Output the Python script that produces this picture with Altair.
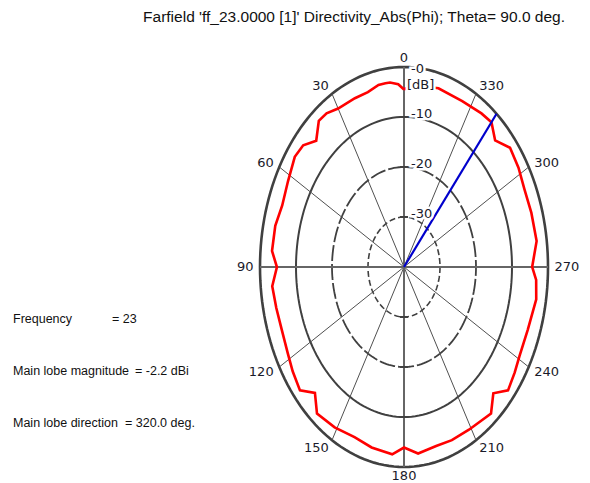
import altair as alt
import pandas as pd
import numpy as np

# ---------------- data ----------------
title_text = "Farfield 'ff_23.0000 [1]' Directivity_Abs(Phi); Theta=  90.0 deg."
info_labels = ["Frequency", "Main lobe magnitude", "Main lobe direction"]
info_values = ["= 23", "= -2.2 dBi", "= 320.0 deg."]

phi_deg = [0, 2.5, 6, 8, 11, 16, 22, 30, 35, 39, 44, 49, 54, 62, 70, 77, 85, 90,
           96, 103, 110, 118, 124, 130.5, 135.5, 140.5, 149, 158, 166, 175, 180,
           186, 194, 201, 209, 219.5, 224.5, 229.5, 235.5, 241, 250, 260, 266, 270,
           278, 287, 295, 302, 309, 315, 320, 325, 334, 345, 352, 357, 360]
dir_db = [-4.5, -3.4, -2.9, -2.9, -2.9, -3.6, -3.6, -3.4, -2.5, -2.4, -4.9, -2.9, -2.5, -3.5, -4.0, -3.3, -3.2, -4.7,
          -3.2, -3.6, -3.8, -3.4, -2.7, -2.0, -4.7, -2.0, -2.6, -3.3, -2.8, -2.4, -3.9,
          -2.5, -3.1, -2.9, -2.8, -2.0, -4.6, -2.0, -2.7, -3.3, -3.4, -2.7, -3.2, -4.4,
          -2.8, -3.0, -3.1, -2.5, -2.1, -4.2, -2.2, -2.5, -3.1, -3.0, -3.5, -3.7, -4.5]

ring_db = [0, -10, -20, -30]
ring_labels = ["-0", "-10", "-20", "-30"]
db_min = -40
angle_ticks = [0, 30, 60, 90, 120, 150, 180, 210, 240, 270, 300, 330]
main_lobe_dir = 320

# ---------------- geometry ----------------
W, H = 574, 475
CX, CY = 396, 259
RX, RY = 144, 200
xs = alt.Scale(domain=[-CX / RX, (W - CX) / RX], nice=False, zero=False)
ys = alt.Scale(domain=[-(H - CY) / RY, CY / RY], nice=False, zero=False)

GRID = "#404040"
FONT_TXT = "Liberation Sans"
FONT_LAB = "DejaVu Sans"

def X(f="x"):
    return alt.X(f"{f}:Q", scale=xs, axis=None)

def Y(f="y"):
    return alt.Y(f"{f}:Q", scale=ys, axis=None)

def polar(ch, rexpr, aexpr):
    return ch.transform_calculate(
        x=f"-({rexpr})*sin(({aexpr})*PI/180)",
        y=f"({rexpr})*cos(({aexpr})*PI/180)",
    )

# rings
ring_rows = []
for lv in ring_db:
    for a in range(0, 362, 2):
        ring_rows.append({"lv": lv, "a": a})
ring_df = pd.DataFrame(ring_rows)
ring_styles = {0: (2.6, []), -10: (2.0, []), -20: (1.8, [16, 3]), -30: (1.6, [6, 3])}
layers = []
for lv in ring_db:
    sw, dash = ring_styles[lv]
    props = dict(color=GRID, strokeWidth=sw)
    if dash:
        props["strokeDash"] = dash
    c = polar(alt.Chart(ring_df), f"(datum.lv-({db_min}))/(-({db_min}))", "datum.a") \
        .transform_filter(f"datum.lv == {lv}") \
        .mark_line(**props).encode(x=X(), y=Y(), order="a:Q")
    layers.append(c)

# spokes
sp_rows = []
for a in angle_ticks:
    if a % 90 != 0:
        sp_rows.append({"a": a, "rr": 0})
        sp_rows.append({"a": a, "rr": 1})
sp_df = pd.DataFrame(sp_rows)
spokes = polar(alt.Chart(sp_df), "datum.rr", "datum.a").mark_line(
    color="#505050", strokeWidth=1).encode(x=X(), y=Y(), detail="a:N", order="rr:Q")
layers.append(spokes)

ax_rows = []
for a in [0, 90]:
    ax_rows += [{"a": a, "rr": -1}, {"a": a, "rr": 1}]
ax_df = pd.DataFrame(ax_rows)
axes_main = polar(alt.Chart(ax_df), "datum.rr", "datum.a").mark_line(
    color="#666666", strokeWidth=2).encode(x=X(), y=Y(), detail="a:N", order="rr:Q")
layers.append(axes_main)

# ticks on vertical axis at ring crossings
tk_rows = []
for lv in ring_db[1:]:
    r = (lv - db_min) / (-db_min)
    tk_rows += [{"lv": lv, "yy": r}, {"lv": lv, "yy": -r}]
tk_df = pd.DataFrame(tk_rows)
ticks = alt.Chart(tk_df).transform_calculate(x1=f"-4/{RX}", x2=f"4/{RX}").mark_rule(
    color=GRID, strokeWidth=2).encode(x=X("x1"), x2="x2:Q", y=Y("yy"))
layers.append(ticks)

# red directivity curve
cur_df = pd.DataFrame({"phi": phi_deg, "db": dir_db, "i": list(range(len(phi_deg)))})
curve = polar(alt.Chart(cur_df), f"(datum.db-({db_min}))/(-({db_min}))", "datum.phi").mark_line(
    color="#ff0000", strokeWidth=2.6, strokeJoin="miter").encode(x=X(), y=Y(), order="i:Q")
layers.append(curve)

# blue main lobe line
ml_df = pd.DataFrame({"a": [main_lobe_dir, main_lobe_dir], "rr": [0, 1]})
lobe = polar(alt.Chart(ml_df), "datum.rr", "datum.a").mark_line(
    color="#0000cc", strokeWidth=2.2).encode(x=X(), y=Y(), order="rr:Q")
layers.append(lobe)

# range labels with white halo
rl_df = pd.DataFrame({"lv": ring_db, "t": ring_labels})
for halo in (True, False):
    base = dict(align="left", baseline="middle", font=FONT_LAB, fontSize=13, color="#1a1a2a")
    if halo:
        base.update(stroke="white", strokeWidth=5, color="white")
    for cond, dy in [("datum.lv == 0", 2), ("datum.lv != 0", -3)]:
        t = alt.Chart(rl_df).transform_filter(cond).transform_calculate(
            x=f"7/{RX}", y=f"(datum.lv-({db_min}))/(-({db_min}))").mark_text(dy=dy, **base).encode(
            x=X(), y=Y(), text="t:N")
        layers.append(t)
    db_t = alt.Chart(pd.DataFrame({"t": ["[dB]"], "v": [0.91]})).transform_calculate(
        x=f"3/{RX}").mark_text(**base).encode(x=X(), y=Y("v"), text="t:N")
    layers.append(db_t)

# angle labels
al_df = pd.DataFrame({"a": angle_ticks, "t": [str(a) for a in angle_ticks]})
for cond, align in [("datum.a > 0 && datum.a < 180", "right"),
                    ("datum.a > 180", "left"),
                    ("datum.a == 0 || datum.a == 180", "center")]:
    t = polar(alt.Chart(al_df).transform_filter(cond), "1.045", "datum.a").mark_text(
        align=align, baseline="middle", font=FONT_LAB, fontSize=13, color="#1a1a2a").encode(
        x=X(), y=Y(), text="t:N")
    layers.append(t)

# title and info text
dummy = pd.DataFrame({"k": [0]})
layers.append(alt.Chart(dummy).mark_text(
    align="right", baseline="alphabetic", font=FONT_TXT, fontSize=15.5, color="#111111",
    text=title_text).encode(x=alt.value(557), y=alt.value(14)))
info_y = [315, 367, 419]
info_vx = [104, 127, 117]
for lab, val, yy, vx in zip(info_labels, info_values, info_y, info_vx):
    layers.append(alt.Chart(dummy).mark_text(
        align="left", baseline="alphabetic", font=FONT_TXT, fontSize=12.5, color="#111111",
        text=lab).encode(x=alt.value(5), y=alt.value(yy)))
    layers.append(alt.Chart(dummy).mark_text(
        align="left", baseline="alphabetic", font=FONT_TXT, fontSize=12.5, color="#111111",
        text=val).encode(x=alt.value(vx), y=alt.value(yy)))

chart = alt.layer(*layers).properties(
    width=W, height=H, padding=0, background="white",
    autosize=alt.AutoSizeParams(type="none")
).configure_view(stroke=None)

chart.save("out.html", embed_options={"renderer": "svg", "actions": False})
